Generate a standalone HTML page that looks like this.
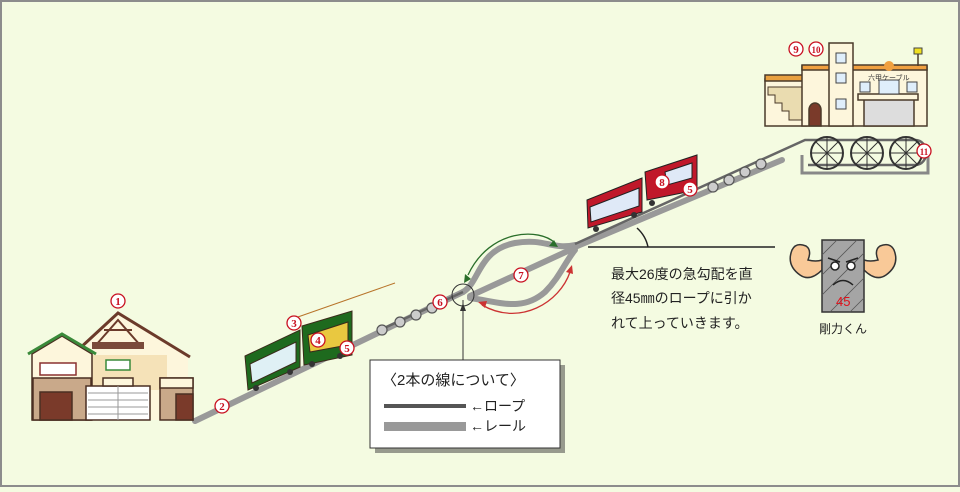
<!DOCTYPE html>
<html><head><meta charset="utf-8"><style>
html,body{margin:0;padding:0}
body{width:960px;height:487px;overflow:hidden;background:#f4fbe1;font-family:"Liberation Sans","Noto Sans CJK JP",sans-serif}
</style></head><body>
<svg width="960" height="487" viewBox="0 0 960 487" xmlns="http://www.w3.org/2000/svg" font-family="Liberation Sans, Noto Sans CJK JP, sans-serif">
<rect x="1" y="1" width="958" height="485" fill="#f4fbe1" stroke="#8c8c8c" stroke-width="2"/>
<!-- rails -->
<g fill="none" stroke="#999" stroke-width="6" stroke-linecap="round">
<path d="M195,421 L463,292"/>
<path d="M463,292 C480,282 478,250 515,243 C545,238 552,250 575,245"/>
<path d="M470,296 L570,250"/>
<path d="M470,298 C500,302 522,312 545,292 C560,277 565,262 575,250"/>
<path d="M575,247 L782,160"/>
</g>
<g fill="none" stroke="#666" stroke-width="2.5">
<path d="M380,330 L463,292"/>
<path d="M575,244 L805,140 L915,140 C930,140 930,165 915,165 L808,165"/>
</g>
<g fill="#ccc" stroke="#555" stroke-width="1.2">
<circle cx="382" cy="330" r="5"/><circle cx="400" cy="322" r="5"/><circle cx="416" cy="315" r="5"/><circle cx="432" cy="308" r="5"/>
<circle cx="713" cy="187" r="5"/><circle cx="729" cy="180" r="5"/><circle cx="745" cy="172" r="5"/><circle cx="761" cy="164" r="5"/>
</g>
<circle cx="463" cy="295" r="11" fill="none" stroke="#333" stroke-width="1"/>
<line x1="463" y1="300" x2="463" y2="362" stroke="#333" stroke-width="1"/>
<path d="M463,303 l-3,8 h6z" fill="#333"/>
<!-- arrows -->
<path d="M468,275 C490,228 540,228 555,243" fill="none" stroke="#2a6e2a" stroke-width="1.3"/>
<path d="M464,283 l1,-9 l6,5z" fill="#2a6e2a"/><path d="M558,247 l-9,-1 l5,-6z" fill="#2a6e2a"/>
<path d="M482,305 C520,327 560,302 570,272" fill="none" stroke="#c33" stroke-width="1.3"/>
<path d="M478,302 l9,-1 l-2,7z" fill="#c33"/><path d="M572,265 l1,9 l-7,-2z" fill="#c33"/>
<!-- angle -->
<line x1="588" y1="247" x2="775" y2="247" stroke="#222" stroke-width="1.5"/>
<path d="M637,228 A35,35 0 0 1 648,247" fill="none" stroke="#222" stroke-width="1.5"/>
<!-- lower station -->
<g stroke="#4a2f22" stroke-width="1.5">
<path d="M70,362 L118,313 L188,357 L188,420 L70,420z" fill="#fdf6dc" stroke="none"/>
<path d="M65,362 L118,313 L190,357" fill="none" stroke="#6b3a2a" stroke-width="3"/>
<path d="M96,345 L118,320 L140,345 M104,330 L132,330" fill="none" stroke="#6b3a2a" stroke-width="2"/>
<rect x="92" y="355" width="75" height="35" fill="#f5e2b8" stroke="none"/>
<path d="M32,354 L62,336 L92,354 L92,420 L32,420z" fill="#fdf6dc"/>
<path d="M28,354 L62,334 L96,354" fill="none" stroke="#3a8a3a" stroke-width="3"/>
<rect x="33" y="378" width="58" height="42" fill="#c9a98a"/>
<rect x="160" y="378" width="33" height="42" fill="#c9a98a"/>
<rect x="40" y="392" width="32" height="28" fill="#7a3a2a"/>
<rect x="86" y="386" width="64" height="34" fill="#fff"/>
<rect x="176" y="394" width="17" height="26" fill="#7a3a2a"/>
<rect x="40" y="363" width="36" height="12" fill="#fff" stroke="#8a3030"/>
<rect x="106" y="360" width="24" height="10" fill="#fff" stroke="#3a8a3a"/>
<path d="M103,378 h30 v8 h-30z M160,378 h33 v10 h-33z" fill="#fdf6dc"/>
</g>
<g stroke="#999" stroke-width="1"><line x1="88" y1="393" x2="148" y2="393"/><line x1="88" y1="400" x2="148" y2="400"/><line x1="88" y1="407" x2="148" y2="407"/><line x1="88" y1="414" x2="148" y2="414"/><line x1="118" y1="386" x2="118" y2="420"/></g>
<rect x="92" y="342" width="52" height="7" fill="#7a4a3a"/>
<!-- green trains -->
<g stroke="#3a2a1a" stroke-width="1">
<path d="M245,356 L300,330 L300,367 L248,390z" fill="#1e6a1e"/>
<path d="M250,364 L296,342 L296,362 L252,383z" fill="#dff0f5"/>
<path d="M302,326 L352,311 L352,355 L304,365z" fill="#1e6a1e"/>
<path d="M308,335 L348,322 L348,345 L310,352z" fill="#e9c840"/>
</g>
<line x1="295" y1="318" x2="395" y2="283" stroke="#b8742a" stroke-width="1"/>
<g fill="#333"><circle cx="256" cy="388" r="3"/><circle cx="290" cy="372" r="3"/><circle cx="312" cy="364" r="3"/><circle cx="340" cy="356" r="3"/></g>
<!-- red trains -->
<g stroke="#222" stroke-width="1">
<path d="M587,200 L642,178 L642,212 L588,228z" fill="#c0182a"/>
<path d="M590,207 L639,188 L639,206 L591,222z" fill="#dfe9f7"/>
<path d="M645,172 L697,155 L697,190 L647,200z" fill="#c0182a"/>
<path d="M665,172 L692,163 L692,178 L667,185z" fill="#dfe9f7"/>
</g>
<g fill="#333"><circle cx="596" cy="229" r="3"/><circle cx="634" cy="215" r="3"/><circle cx="652" cy="203" r="3"/><circle cx="686" cy="192" r="3"/></g>
<!-- upper station -->
<g stroke="#4a3a2a" stroke-width="1.5">
<rect x="765" y="79" width="42" height="47" fill="#fdf6dc"/>
<path d="M768,87 L768,95 L775,95 L775,103 L782,103 L782,111 L789,111 L789,120 L805,120 L805,87z" fill="#eadcb0" stroke-width="1"/>
<rect x="765" y="75" width="42" height="6" fill="#e8a040"/>
<rect x="802" y="66" width="125" height="60" fill="#fdf6dc"/>
<rect x="802" y="65" width="125" height="5" fill="#f0a040"/>
<rect x="829" y="43" width="24" height="83" fill="#fdf6dc"/>
<path d="M809,126 L809,110 a6,7 0 0 1 12,0 L821,126z" fill="#7a3a2a"/>
<rect x="864" y="98" width="50" height="28" fill="#ddd"/>
<rect x="858" y="94" width="60" height="6" fill="#fdf6dc"/>
<line x1="918" y1="66" x2="918" y2="48"/>
</g>
<rect x="914" y="48" width="8" height="6" fill="#f0e020" stroke="#444"/>
<g fill="#dfeefb" stroke="#444" stroke-width="1"><rect x="836" y="53" width="10" height="10"/><rect x="836" y="73" width="10" height="10"/><rect x="836" y="99" width="10" height="10"/><rect x="860" y="82" width="10" height="10"/><rect x="879" y="80" width="20" height="14"/><rect x="907" y="82" width="10" height="10"/></g>
<circle cx="889" cy="66" r="5" fill="#f0a040"/>
<text x="868" y="80" font-size="7" fill="#333">六甲ケーブル</text>
<path d="M802,155 L802,173 L928,173 L928,155" fill="none" stroke="#888" stroke-width="3"/>
<g fill="none" stroke="#333" stroke-width="2"><circle cx="827" cy="153" r="16"/><circle cx="867" cy="153" r="16"/><circle cx="906" cy="153" r="16"/></g>
<g stroke="#333" stroke-width="1"><path d="M811,153h32M827,137v32M816,142l22,22M838,142l-22,22M851,153h32M867,137v32M856,142l22,22M878,142l-22,22M890,153h32M906,137v32M895,142l22,22M917,142l-22,22"/></g>
<!-- character -->
<g stroke="#333" stroke-width="1.5">
<path d="M822,270 q-12,12 -22,5 q-14,-10 -8,-25 q4,-8 14,-4 q6,4 2,14 q8,2 14,0z" fill="#f9c998"/>
<path d="M864,270 q12,12 22,5 q14,-10 8,-25 q-4,-8 -14,-4 q-6,4 -2,14 q-8,2 -14,0z" fill="#f9c998"/>
<rect x="822" y="240" width="42" height="72" fill="#a5a5a5"/>
</g>
<g stroke="#555" stroke-width="0.8"><path d="M822,255 l15,-15 M822,275 l35,-35 M822,295 l42,-42 M830,312 l34,-34 M850,312 l14,-14"/></g>
<g stroke="#222" stroke-width="1.5" fill="#fff"><circle cx="835" cy="266" r="4"/><circle cx="851" cy="266" r="4"/><path d="M828,258 l12,4 M858,258 l-12,4 M833,285 q10,-9 20,0" fill="none"/></g>
<text x="836" y="306" font-size="13" fill="#e0101a">45</text>
<text x="843" y="333" font-size="12" fill="#222" text-anchor="middle">剛力くん</text>
<!-- description -->
<text x="611" y="279" font-size="14" fill="#222">最大26度の急勾配を直</text>
<text x="611" y="303" font-size="14" fill="#222">径45㎜のロープに引か</text>
<text x="611" y="328" font-size="14" fill="#222">れて上っていきます。</text>
<!-- legend -->
<rect x="372" y="362" width="190" height="88" fill="#3a3a3a" opacity="0.5" transform="translate(3,3)"/>
<rect x="370" y="360" width="190" height="88" fill="#fff" stroke="#333"/>
<text x="382" y="385" font-size="15" fill="#222">〈2本の線について〉</text>
<rect x="384" y="404" width="82" height="4" fill="#555"/>
<text x="470" y="411" font-size="14" fill="#222">←ロープ</text>
<rect x="384" y="422" width="82" height="9" fill="#999"/>
<text x="470" y="431" font-size="14" fill="#222">←レール</text>
<!-- number markers -->
<g font-size="11" font-weight="bold" fill="#c81020" text-anchor="middle" font-family="Liberation Serif, serif">
<g fill="#fff" stroke="#c81020" stroke-width="1.3">
<circle cx="118" cy="301" r="7"/><circle cx="222" cy="406" r="7"/><circle cx="294" cy="323" r="7"/><circle cx="318" cy="340" r="7"/><circle cx="347" cy="348" r="7"/><circle cx="440" cy="302" r="7"/><circle cx="521" cy="275" r="7"/><circle cx="662" cy="182" r="7"/><circle cx="690" cy="189" r="7"/><circle cx="796" cy="49" r="7"/><circle cx="816" cy="49" r="7"/><circle cx="924" cy="151" r="7"/>
</g>
<text x="118" y="305">1</text><text x="222" y="410">2</text><text x="294" y="327">3</text><text x="318" y="344">4</text><text x="347" y="352">5</text><text x="440" y="306">6</text><text x="521" y="279">7</text><text x="662" y="186">8</text><text x="690" y="193">5</text><text x="796" y="53">9</text><text x="816" y="53" font-size="9">10</text><text x="924" y="155" font-size="9">11</text>
</g>
</svg>
</body></html>
